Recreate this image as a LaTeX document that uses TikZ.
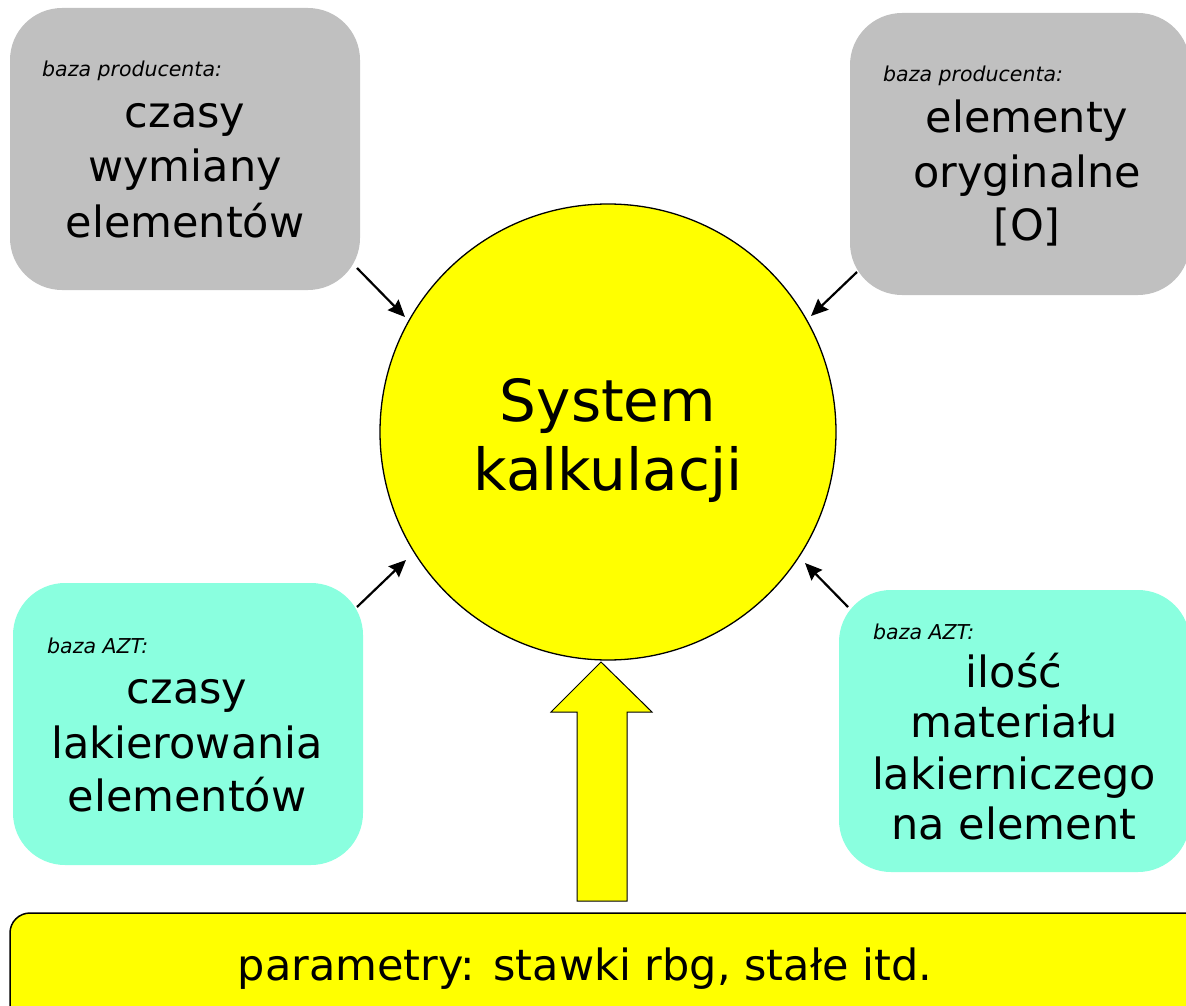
\documentclass[tikz,border=0pt]{standalone}
\usepackage{fontspec}
\setmainfont{DejaVu Sans}
\usetikzlibrary{arrows.meta}
\definecolor{boxgray}{HTML}{C0C0C0}
\definecolor{boxcyan}{HTML}{8AFFDF}
\definecolor{sysyellow}{HTML}{FFFF00}
\tikzset{
  dbbox/.style={rounded corners=52pt, draw=none},
  graybox/.style={dbbox, fill=boxgray},
  cyanbox/.style={dbbox, fill=boxcyan},
  small/.style={font=\fontsize{20.5}{24}\selectfont\itshape, anchor=base west, inner sep=0pt},
  big/.style={font=\fontsize{43}{52}\selectfont, anchor=base, inner sep=0pt},
  sys/.style={font=\fontsize{58}{70}\selectfont, anchor=base, inner sep=0pt},
  feed/.style={-{Stealth[length=17pt,width=15pt,inset=2pt]}, line width=2.2pt},
}
\begin{document}
\begin{tikzpicture}[x=1pt,y=-1pt]
\useasboundingbox (0,0) rectangle (1186,1006);
% boxes
\path[graybox] (10,8) rectangle (360,290);
\path[graybox] (850,13) rectangle (1190,295);
\path[cyanbox] (13,583) rectangle (363,865);
\path[cyanbox] (839,590) rectangle (1190,872);
% circle
\node[circle, draw=black, line width=1.3pt, fill=sysyellow, minimum size=456pt, inner sep=0pt] (circ) at (608,432) {};
% texts
\node[small] (t1a) at (42,77) {baza producenta:};
\node[big] (t1b) at (185,128) {czasy};
\node[big] (t1c) at (185,182) {wymiany};
\node[big] (t1d) at (185,237) {elementów};
\node[small] (t2a) at (883,82) {baza producenta:};
\node[big] (t2b) at (1027,133) {elementy};
\node[big] (t2c) at (1027,187) {oryginalne};
\node[big] (t2d) at (1027,240) {[O]};
\node[small] (t3a) at (47,653) {baza AZT:};
\node[big] (t3b) at (187,703) {czasy};
\node[big] (t3c) at (187,758) {lakierowania};
\node[big] (t3d) at (187,811) {elementów};
\node[small] (t4a) at (873,639) {baza AZT:};
\node[big] (t4b) at (1014,687) {ilość};
\node[big] (t4c) at (1014,737) {materiału};
\node[big] (t4d) at (1014,789) {lakierniczego};
\node[big] (t4e) at (1014,839) {na element};
\node[sys] (s1) at (608,421) {System};
\node[sys] (s2) at (608,490) {kalkulacji};
% connectors
\coordinate (a1) at (357,268);
\coordinate (a2) at (857,272);
\coordinate (a3) at (357,607);
\coordinate (a4) at (848,607);
\coordinate (e1) at (405,317);
\coordinate (e2) at (811,316);
\coordinate (e3) at (406,560);
\coordinate (e4) at (805,563);
\draw[feed] (a1) -- (e1);
\draw[feed] (a2) -- (e2);
\draw[feed] (a3) -- (e3);
\draw[feed] (a4) -- (e4);
% bottom box
\draw[fill=sysyellow, line width=1.5pt, rounded corners=20pt] (10,913) rectangle (1230,1060);
\node[font=\fontsize{43}{52}\selectfont, anchor=base, inner sep=0pt] (par) at (585,980) {parametry: stawki rbg, stałe itd.};
% big arrow
\draw[fill=sysyellow, line width=1pt] (577,901) -- (577,712) -- (551,712) -- (601,662) -- (652,712) -- (627,712) -- (627,901) -- cycle;
\end{tikzpicture}
\end{document}
